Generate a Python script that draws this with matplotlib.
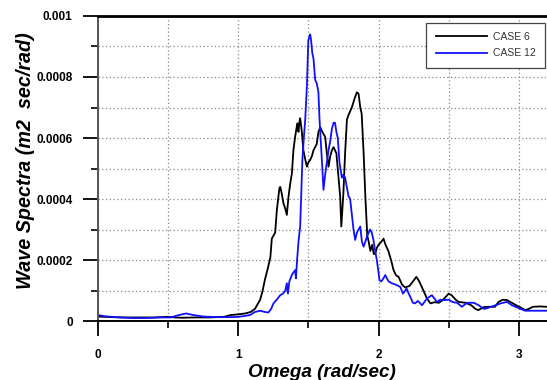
import numpy as np
import matplotlib
matplotlib.use("Agg")
import matplotlib.pyplot as plt
from matplotlib.ticker import MultipleLocator, FuncFormatter

# CASE 6 (black) - omega [rad/sec], spectra in 1e-4 m2 sec/rad
omega6 = [0.0, 0.1, 0.2, 0.3, 0.4, 0.5, 0.55, 0.6, 0.7, 0.8, 0.9, 0.95,
          1.0, 1.05, 1.09, 1.12, 1.157, 1.175, 1.19, 1.21, 1.23, 1.24, 1.252,
          1.264, 1.276, 1.294, 1.30, 1.31, 1.323, 1.335, 1.347, 1.359, 1.371,
          1.383, 1.394, 1.405, 1.415, 1.423, 1.43, 1.436, 1.442, 1.454, 1.465,
          1.478, 1.49, 1.50, 1.513, 1.525, 1.537, 1.56, 1.572, 1.585, 1.60,
          1.62, 1.632, 1.644, 1.656, 1.668, 1.68, 1.70, 1.715, 1.727, 1.735,
          1.75, 1.762, 1.775, 1.786, 1.80, 1.81, 1.83, 1.846, 1.858, 1.87,
          1.88, 1.894, 1.906, 1.915, 1.92, 1.93, 1.942, 1.955, 1.966, 1.976,
          1.988, 2.0, 2.02, 2.036, 2.05, 2.07, 2.083, 2.095, 2.107, 2.125,
          2.143, 2.167, 2.19, 2.2, 2.22, 2.245, 2.27, 2.29, 2.32, 2.345, 2.37,
          2.4, 2.43, 2.46, 2.5, 2.52, 2.55, 2.57, 2.62, 2.66, 2.69, 2.71, 2.75,
          2.8, 2.83, 2.855, 2.885, 2.915, 2.95, 2.98, 3.01, 3.045, 3.07, 3.1,
          3.15, 3.2]
spec6 = [0.15, 0.13, 0.12, 0.12, 0.12, 0.14, 0.12, 0.11, 0.12, 0.12, 0.14, 0.2,
         0.22, 0.25, 0.3, 0.4, 0.7, 1.0, 1.34, 1.7, 2.1, 2.7, 2.8,
         2.9, 3.64, 4.35, 4.4, 4.2, 3.86, 3.7, 3.48, 4.08, 4.5,
         4.84, 5.6, 6.0, 6.3, 6.48, 6.2, 6.5, 6.65, 6.2, 5.6,
         5.3, 5.06, 5.2, 5.28, 5.4, 5.6, 5.8, 6.2, 6.35, 6.2,
         6.04, 5.5, 5.06, 5.4, 5.6, 5.7, 5.5, 4.73, 4.08, 3.1,
         4.2, 5.5, 6.6, 6.75, 6.9, 7.0, 7.3, 7.5, 7.45, 7.0,
         6.8, 5.5, 4.1, 3.3, 2.8, 2.6, 2.3, 2.5, 2.2, 2.2,
         2.4, 2.5, 2.6, 2.7, 2.5, 2.3, 2.1, 1.9, 1.67, 1.5,
         1.45, 1.2, 1.1, 1.12, 1.15, 1.3, 1.45, 1.3, 1.0, 0.74, 0.58,
         0.62, 0.6, 0.7, 0.9, 0.85, 0.7, 0.63, 0.6, 0.52, 0.4, 0.36, 0.46,
         0.47, 0.47, 0.63, 0.7, 0.69, 0.6, 0.52, 0.45, 0.36, 0.4, 0.47,
         0.48, 0.47]

# CASE 12 (blue)
omega12 = [0.0, 0.05, 0.15, 0.25, 0.35, 0.45, 0.52, 0.58, 0.63, 0.68, 0.75,
           0.85, 0.95, 1.0, 1.05, 1.086, 1.12, 1.157, 1.19, 1.215, 1.235,
           1.252, 1.275, 1.3, 1.32, 1.336, 1.347, 1.355, 1.365, 1.383, 1.395,
           1.406, 1.412, 1.42, 1.43, 1.442, 1.45, 1.458, 1.468, 1.478, 1.49,
           1.50, 1.513, 1.52, 1.528, 1.537, 1.549, 1.56, 1.572, 1.58, 1.59,
           1.6, 1.608, 1.62, 1.632, 1.644, 1.656, 1.668, 1.68, 1.69, 1.70,
           1.71, 1.722, 1.739, 1.75, 1.762, 1.774, 1.786, 1.798, 1.81, 1.822,
           1.834, 1.846, 1.858, 1.87, 1.882, 1.894, 1.906, 1.92, 1.94, 1.952,
           1.964, 1.976, 1.988, 2.0, 2.007, 2.02, 2.035, 2.048, 2.06, 2.072,
           2.095, 2.12, 2.155, 2.174, 2.19, 2.2, 2.215, 2.226, 2.245, 2.26,
           2.28, 2.31, 2.345, 2.38, 2.416, 2.44, 2.464, 2.5, 2.53, 2.56, 2.594,
           2.63, 2.68, 2.713, 2.75, 2.77, 2.81, 2.87, 2.915, 2.95, 2.98, 3.01,
           3.045, 3.1, 3.15, 3.2]
spec12 = [0.2, 0.16, 0.12, 0.1, 0.1, 0.12, 0.12, 0.2, 0.25, 0.2, 0.15,
          0.13, 0.13, 0.14, 0.17, 0.2, 0.3, 0.34, 0.3, 0.28, 0.4,
          0.58, 0.7, 0.85, 0.9, 1.0, 1.24, 0.9, 1.3, 1.51, 1.6,
          1.67, 1.4, 2.0, 2.6, 3.1, 4.2, 5.3, 6.0, 6.6, 7.7,
          9.2, 9.4, 9.2, 8.8, 8.6, 7.9, 7.8, 7.5, 6.6, 5.8,
          5.0, 4.3, 4.8, 5.2, 5.6, 5.9, 6.3, 6.5, 6.5, 6.2,
          6.0, 5.2, 4.7, 4.8, 4.7, 4.4, 4.1, 4.0, 3.5, 3.0,
          2.66, 2.9, 3.0, 3.1, 2.6, 2.44, 2.6, 2.8, 3.0, 2.9,
          2.66, 2.3, 2.0, 1.6, 1.34, 1.3, 1.4, 1.51, 1.4, 1.3,
          1.24, 1.2, 1.12, 0.9, 1.0, 1.07, 0.9, 0.8, 0.6, 0.58,
          0.66, 0.52, 0.74, 0.85, 0.63, 0.7, 0.69, 0.7, 0.62, 0.6, 0.47,
          0.6, 0.6, 0.52, 0.4, 0.42, 0.48, 0.58, 0.63, 0.52, 0.46, 0.4,
          0.34, 0.34, 0.34, 0.34]

labels = ["CASE 6", "CASE 12"]
colors = ["black", "#1010ff"]

fig = plt.figure(figsize=(5.47, 3.80), dpi=100)
ax = fig.add_axes([0.1786, 0.155, 0.8214, 0.803])

ax.plot(omega6, np.array(spec6) * 1e-4, color=colors[0], lw=1.3, label=labels[0])
ax.plot(omega12, np.array(spec12) * 1e-4, color=colors[1], lw=1.3, label=labels[1])

ax.set_xlim(0, 3.2)
ax.set_ylim(0, 0.001)

ax.xaxis.set_major_locator(MultipleLocator(1))
ax.xaxis.set_minor_locator(MultipleLocator(0.5))
ax.yaxis.set_major_locator(MultipleLocator(0.0002))
ax.yaxis.set_minor_locator(MultipleLocator(0.0001))
ax.yaxis.set_major_formatter(FuncFormatter(lambda v, p: "%g" % round(v, 6)))
ax.xaxis.set_major_formatter(FuncFormatter(lambda v, p: "%d" % round(v)))

ax.grid(True, which="both", color="#888888", linestyle=(0, (1, 2)), lw=0.9)
ax.set_axisbelow(True)

ax.tick_params(which="major", direction="out", length=11, width=1.3, pad=7)
ax.tick_params(which="minor", direction="out", length=5, width=1.2)
ax.tick_params(axis="x", which="major", pad=9)
for lab in ax.get_xticklabels() + ax.get_yticklabels():
    lab.set_fontfamily("Liberation Sans")
    lab.set_fontweight("bold")
    lab.set_fontsize(8.5)

ax.spines["right"].set_visible(False)
ax.spines["top"].set_linewidth(2)
ax.spines["bottom"].set_linewidth(1.4)
ax.spines["left"].set_linewidth(1.4)
ax.spines["left"].set_color("#555555")

ax.set_xlabel("Omega (rad/sec)", labelpad=2, family="Liberation Sans",
              weight="bold", style="italic", size=13.6)
ax.set_ylabel("Wave Spectra (m2  sec/rad)", labelpad=0, family="Liberation Sans",
              weight="bold", style="italic", size=14.2)
ax.yaxis.set_label_coords(-0.14, 0.525)

leg = ax.legend(loc="upper right", bbox_to_anchor=(545 / 547, 1 - 22.7 / 380),
                bbox_transform=fig.transFigure, fancybox=False, frameon=True,
                edgecolor="#444444", framealpha=1, handlelength=4.9,
                borderpad=0.9, borderaxespad=0, labelspacing=0.6, handletextpad=0.6,
                prop={"family": ["Liberation Sans Narrow", "Liberation Sans"], "size": 7.5})
leg.get_frame().set_linewidth(0.9)
for t in leg.get_texts():
    t.set_color("#333333")

fig.savefig("out.png", dpi=100)
